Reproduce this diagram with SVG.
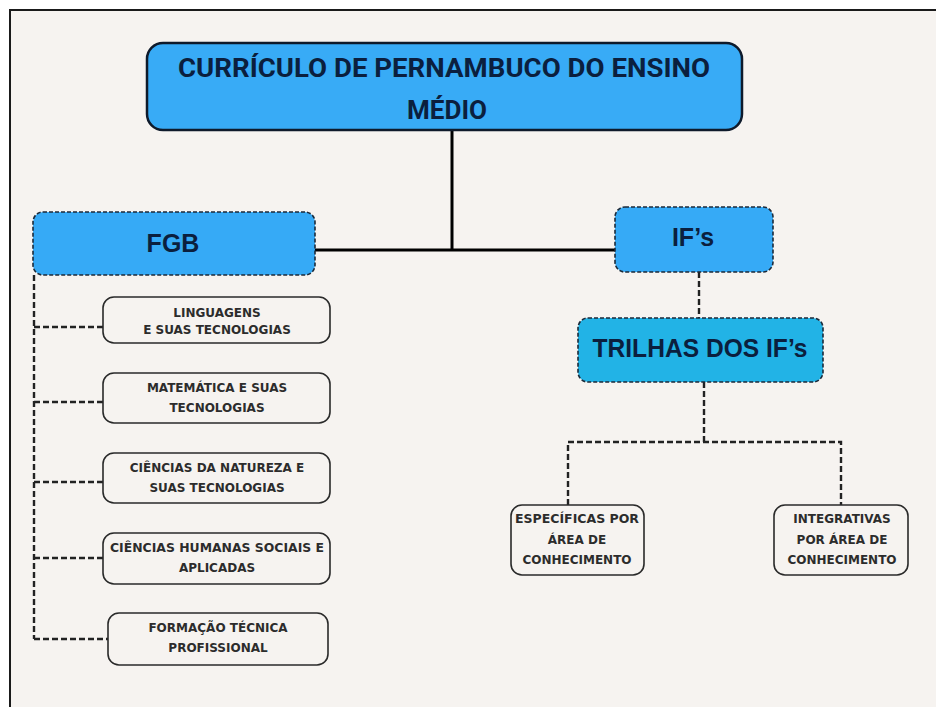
<svg xmlns="http://www.w3.org/2000/svg" width="936" height="707" viewBox="0 0 936 707">
<defs>
<style>
.bg{fill:#F6F3F0}
.frame{fill:none;stroke:#1a1a1a;stroke-width:2}
.title{fill:#38ABF6;stroke:#0E1A2B;stroke-width:2.5}
.blue{fill:#36AAF6;stroke:#1B2A3A;stroke-width:1.6;stroke-dasharray:4 2}
.cyan{fill:#22B3E6;stroke:#1B2A3A;stroke-width:1.6;stroke-dasharray:4 2}
.leaf{fill:#F6F3F0;stroke:#2A2A2A;stroke-width:1.6}
.solid{fill:none;stroke:#000;stroke-width:3}
.dash{fill:none;stroke:#222;stroke-width:2.4;stroke-dasharray:6 3}
.tt{font-family:"Roboto","Liberation Sans",sans-serif;font-weight:700;font-size:25px;fill:#0B1F3E;text-anchor:middle}
.big{font-family:"Liberation Sans",Arial,sans-serif;font-weight:700;font-size:25px;fill:#0B1F3E;text-anchor:middle}
.sm{font-family:"DejaVu Sans","Liberation Sans",sans-serif;font-weight:700;font-size:12px;fill:#2C2C2C;text-anchor:middle}
</style>
</defs>
<rect x="0" y="0" width="936" height="707" fill="#FFFFFF"/>
<rect class="bg" x="10" y="10" width="926" height="697"/>
<path class="frame" d="M10,707 V10 H936"/>

<g id="connectors">
<path class="solid" d="M452,130 V250"/>
<path class="solid" d="M315,250 H615"/>
<path class="dash" d="M699,272 V318"/>
<path class="dash" d="M704,382 V442"/>
<path class="dash" d="M568,505 V442 H841 V505"/>
<path class="dash" d="M34,275 V639"/>
<path class="dash" d="M34,327 H103"/>
<path class="dash" d="M34,402 H103"/>
<path class="dash" d="M34,482 H103"/>
<path class="dash" d="M34,558 H103"/>
<path class="dash" d="M34,639 H108"/>
</g>

<g id="title">
<rect class="title" x="147" y="43" width="595" height="87" rx="16"/>
<text class="tt" x="444" y="77" textLength="532" lengthAdjust="spacingAndGlyphs">CURRÍCULO DE PERNAMBUCO DO ENSINO</text>
<text class="tt" x="447" y="119" textLength="80" lengthAdjust="spacingAndGlyphs">MÉDIO</text>
</g>

<g id="fgb">
<rect class="blue" x="33" y="212" width="282" height="63" rx="10"/>
<text class="big" x="173" y="252" font-size="26">FGB</text>
</g>

<g id="ifs">
<rect class="blue" x="615" y="207" width="158" height="65" rx="10"/>
<text class="big" x="693" y="246">IF’s</text>
</g>

<g id="trilhas">
<rect class="cyan" x="578" y="318" width="245" height="64" rx="10"/>
<text class="big" x="700" y="357" textLength="215" lengthAdjust="spacingAndGlyphs">TRILHAS DOS IF’s</text>
</g>

<g id="linguagens">
<rect class="leaf" x="103" y="297" width="227" height="46" rx="11"/>
<text class="sm" x="217" y="317">LINGUAGENS</text>
<text class="sm" x="217" y="334">E SUAS TECNOLOGIAS</text>
</g>

<g id="matematica">
<rect class="leaf" x="103" y="373" width="227" height="50" rx="11"/>
<text class="sm" x="217" y="392">MATEMÁTICA E SUAS</text>
<text class="sm" x="217" y="412">TECNOLOGIAS</text>
</g>

<g id="natureza">
<rect class="leaf" x="103" y="453" width="227" height="50" rx="11"/>
<text class="sm" x="217" y="472">CIÊNCIAS DA NATUREZA E</text>
<text class="sm" x="217" y="492">SUAS TECNOLOGIAS</text>
</g>

<g id="humanas">
<rect class="leaf" x="103" y="533" width="227" height="51" rx="11"/>
<text class="sm" x="217" y="552" textLength="214" lengthAdjust="spacingAndGlyphs">CIÊNCIAS HUMANAS SOCIAIS E</text>
<text class="sm" x="217" y="572">APLICADAS</text>
</g>

<g id="formacao">
<rect class="leaf" x="108" y="613" width="220" height="52" rx="11"/>
<text class="sm" x="218" y="632">FORMAÇÃO TÉCNICA</text>
<text class="sm" x="218" y="652">PROFISSIONAL</text>
</g>

<g id="especificas">
<rect class="leaf" x="511" y="505" width="133" height="70" rx="11"/>
<text class="sm" x="577" y="523" textLength="124" lengthAdjust="spacingAndGlyphs">ESPECÍFICAS POR</text>
<text class="sm" x="577" y="544">ÁREA DE</text>
<text class="sm" x="577" y="564">CONHECIMENTO</text>
</g>

<g id="integrativas">
<rect class="leaf" x="774" y="505" width="134" height="70" rx="11"/>
<text class="sm" x="842" y="523">INTEGRATIVAS</text>
<text class="sm" x="842" y="544">POR ÁREA DE</text>
<text class="sm" x="842" y="564">CONHECIMENTO</text>
</g>
</svg>
